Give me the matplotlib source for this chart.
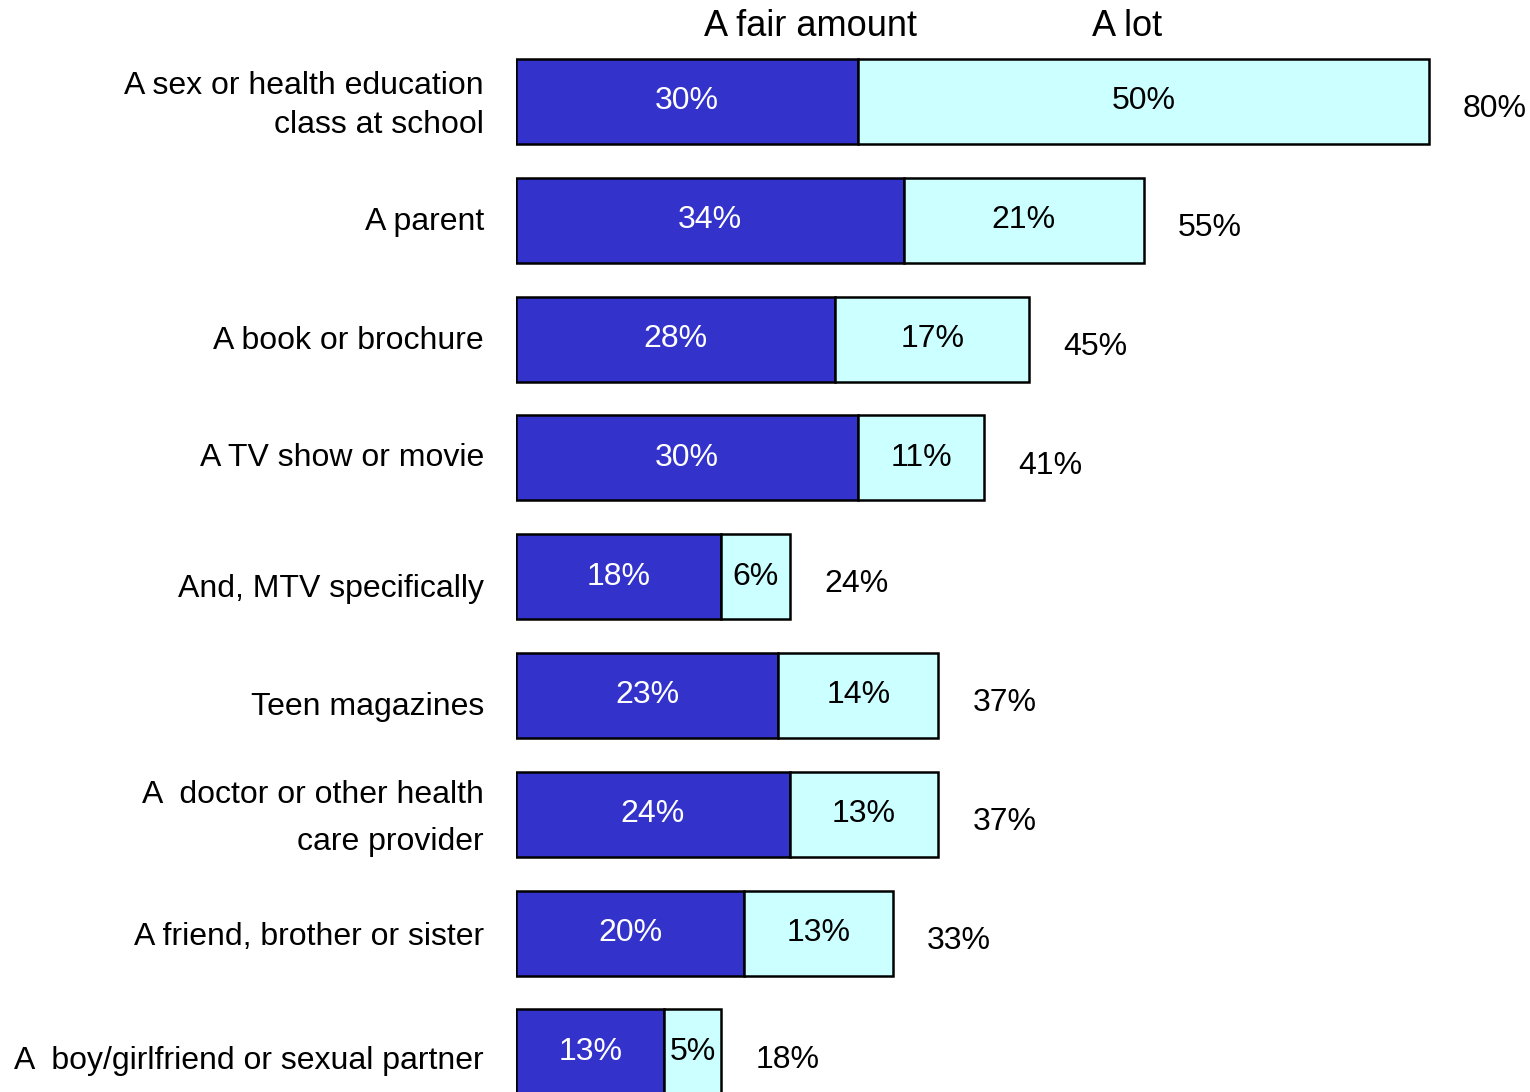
import matplotlib
matplotlib.use("Agg")
import matplotlib.pyplot as plt

plt.rcParams['font.family'] = ['Liberation Sans', 'DejaVu Sans']

categories = [
    "A sex or health education\nclass at school",
    "A parent",
    "A book or brochure",
    "A TV show or movie",
    "And, MTV specifically",
    "Teen magazines",
    "A  doctor or other health\ncare provider",
    "A friend, brother or sister",
    "A  boy/girlfriend or sexual partner",
]
fair_amount = [30, 34, 28, 30, 18, 23, 24, 20, 13]
a_lot = [50, 21, 17, 11, 6, 14, 13, 13, 5]
totals = [80, 55, 45, 41, 24, 37, 37, 33, 18]
series_names = ["A fair amount", "A lot"]

dark = "#3333CC"
light = "#CCFFFF"

W, H = 1530, 1092
fig = plt.figure(figsize=(W / 100, H / 100), dpi=100)
x0_px = 516
px_per_pct = 11.41
xmax = (1528 - x0_px) / px_per_pct
ax = fig.add_axes([x0_px / W, 0, (1528 - x0_px) / W, 1])
row_px = 118.8
top_center = 101.5
ax.set_xlim(0, xmax)
ax.set_ylim((H - top_center) / row_px, -top_center / row_px)
ax.axis('off')

ypos = list(range(len(categories)))
bh = 85 / row_px
ax.barh(ypos, fair_amount, height=bh, color=dark, edgecolor='black', linewidth=1.8)
ax.barh(ypos, a_lot, left=fair_amount, height=bh, color=light, edgecolor='black', linewidth=1.8)

# small per-row vertical nudges (pixels) for the category labels
label_nudge_px = [4, 2, 2, 0, 12, 12, 4, 4, 9]

fs = 23
for i, (f, l, t, c) in enumerate(zip(fair_amount, a_lot, totals, categories)):
    ax.text(f / 2, i, f"{f}%", ha='center', va='center', color='white', fontsize=fs)
    ax.text(f + l / 2, i, f"{l}%", ha='center', va='center', color='black', fontsize=fs)
    ax.text(f + l + 3.0, i + 0.065, f"{t}%", ha='left', va='center', color='black', fontsize=fs)
    ls = 1.72 if "doctor" in c else 1.38
    ax.text(-2.8, i + label_nudge_px[i] / row_px, c, ha='right', va='center',
            multialignment='right', color='black', fontsize=fs, linespacing=ls, clip_on=False)

hy = -top_center / row_px + 27 / row_px
ax.text((811 - x0_px) / px_per_pct, hy, series_names[0], ha='center', va='center', fontsize=26)
ax.text((1127 - x0_px) / px_per_pct, hy, series_names[1], ha='center', va='center', fontsize=26)

fig.savefig("out.png", dpi=100)
